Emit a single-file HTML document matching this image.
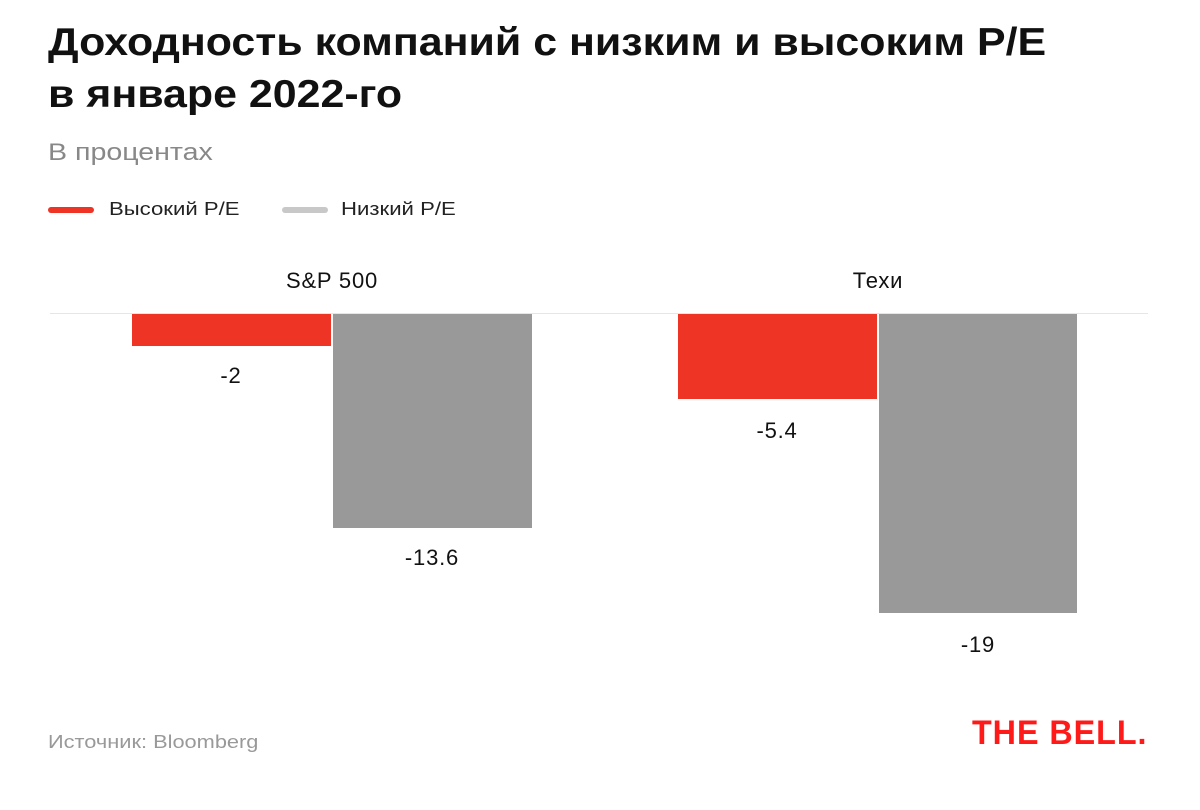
<!DOCTYPE html>
<html><head><meta charset="utf-8"><style>
body{margin:0;width:1200px;height:810px;background:#fff;font-family:"Liberation Sans",sans-serif;position:relative;overflow:hidden}
div{position:absolute;white-space:nowrap}
.t{left:48px;top:17px;font-size:39px;font-weight:bold;line-height:52px;color:#111;transform:scaleX(1.10);transform-origin:left top}
.sub{left:48px;top:139px;font-size:24px;color:#888;transform:scaleX(1.19);transform-origin:left top}
.lg{top:199px;font-size:18px;color:#222;transform:scaleX(1.23);transform-origin:left top}
.sw{top:207px;width:46px;height:6px;border-radius:3px}
.bar{top:314px}
.lab{font-size:22px;color:#111;text-align:center;width:200px;letter-spacing:0.8px}
</style></head><body>
<div class="t">Доходность компаний с низким и высоким P/E<br>в январе 2022-го</div>
<div class="sub">В процентах</div>
<div class="sw" style="left:48px;background:#ee3425"></div>
<div class="lg" style="left:109px">Высокий P/E</div>
<div class="sw" style="left:282px;background:#c8c8c8"></div>
<div class="lg" style="left:341px">Низкий P/E</div>
<div class="lab" style="left:232px;top:268px">S&amp;P 500</div>
<div class="lab" style="left:778px;top:268px">Техи</div>
<div style="left:50px;top:313px;width:1098px;height:1px;background:#e6e6e6"></div>
<div class="bar" style="left:132px;width:199px;height:32px;background:#ee3425"></div>
<div class="bar" style="left:333px;width:199px;height:214px;background:#999"></div>
<div class="bar" style="left:678px;width:199px;height:85px;background:#ee3425"></div>
<div class="bar" style="left:879px;width:198px;height:299px;background:#999"></div>
<div class="lab" style="left:131px;top:363px">-2</div>
<div class="lab" style="left:332px;top:545px">-13.6</div>
<div class="lab" style="left:677px;top:418px">-5.4</div>
<div class="lab" style="left:878px;top:632px">-19</div>
<div style="left:48px;top:732px;font-size:18px;color:#999;transform:scaleX(1.21);transform-origin:left top">Источник: Bloomberg</div>
<div style="left:972px;top:714px;font-size:34px;font-weight:900;color:#ff1a1a;letter-spacing:1px;transform:scaleX(0.95);transform-origin:left">THE BELL.</div>
</body></html>
